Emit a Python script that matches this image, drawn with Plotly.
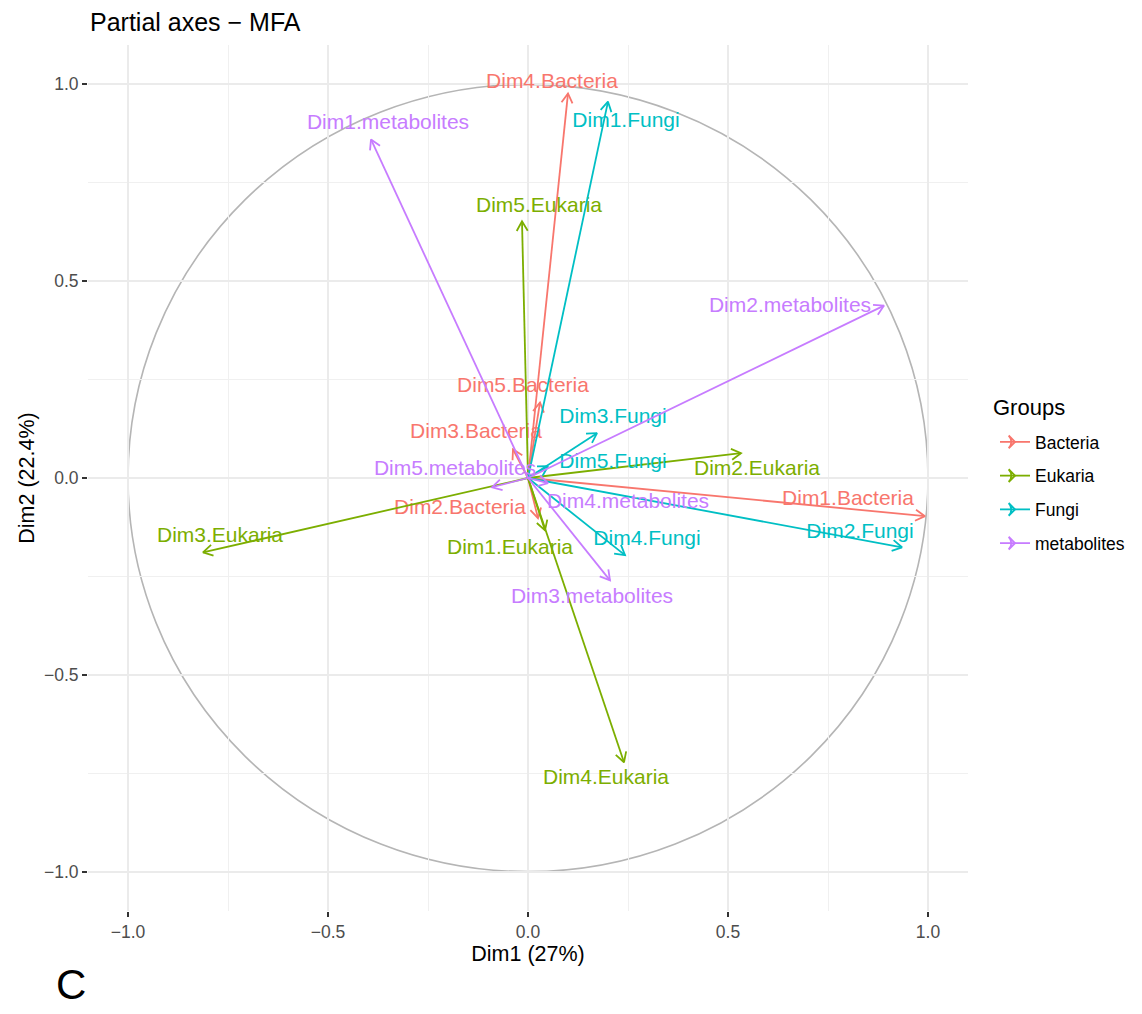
import math
import plotly.graph_objects as go

# ---------------- data ----------------
groups = ["Bacteria", "Eukaria", "Fungi", "metabolites"]
dims = ["Dim1", "Dim2", "Dim3", "Dim4", "Dim5"]

bacteria_x = [0.9925, 0.025, -0.0375, 0.10, 0.03]
bacteria_y = [-0.097, -0.102, 0.073, 0.977, 0.192]
eukaria_x = [0.0425, 0.5325, -0.8125, 0.24, -0.015]
eukaria_y = [-0.133, 0.063, -0.189, -0.722, 0.652]
fungi_x = [0.20, 0.935, 0.1725, 0.2425, 0.05]
fungi_y = [0.956, -0.176, 0.114, -0.196, 0.03]
metab_x = [-0.3925, 0.89, 0.205, 0.05, -0.09]
metab_y = [0.86, 0.438, -0.26, -0.0133, -0.0235]

# label anchor positions (repelled text) in data units
bacteria_lx = [0.80, -0.17, -0.13, 0.06, -0.0125]
bacteria_ly = [-0.056, -0.077, 0.114, 1.005, 0.233]
eukaria_lx = [-0.045, 0.5725, -0.77, 0.195, 0.0275]
eukaria_ly = [-0.179, 0.02, -0.15, -0.765, 0.69]
fungi_lx = [0.245, 0.83, 0.2125, 0.2975, 0.2125]
fungi_ly = [0.906, -0.138, 0.154, -0.156, 0.04]
metab_lx = [-0.35, 0.655, 0.16, 0.25, -0.1825]
metab_ly = [0.90, 0.436, -0.303, -0.064, 0.02]

x_ticks = [-1.0, -0.5, 0.0, 0.5, 1.0]
y_ticks = [-1.0, -0.5, 0.0, 0.5, 1.0]

series = {
    "Bacteria": (bacteria_x, bacteria_y, bacteria_lx, bacteria_ly),
    "Eukaria": (eukaria_x, eukaria_y, eukaria_lx, eukaria_ly),
    "Fungi": (fungi_x, fungi_y, fungi_lx, fungi_ly),
    "metabolites": (metab_x, metab_y, metab_lx, metab_ly),
}
colors = {"Bacteria": "#F8766D", "Eukaria": "#7CAE00",
          "Fungi": "#00BFC4", "metabolites": "#C77CFF"}

# ---------------- geometry helpers ----------------
# page body has an 8px margin, so the figure is slightly smaller than the window
W, H = 1134, 1006
ML, MR, MT, MB = 80, 174, 37, 103
PW, PH = W - ML - MR, H - MT - MB
XR = [-1.1, 1.1]
YR = [-1.1, 1.1]
SX = PW / (XR[1] - XR[0])   # px per unit
SY = PH / (YR[1] - YR[0])
HEAD = 11.0
ANG = math.radians(30)


def arrow_path(xs, ys):
    px, py = [], []
    for x, y in zip(xs, ys):
        ux, uy = x * SX, y * SY
        n = math.hypot(ux, uy) or 1.0
        dx, dy = ux / n, uy / n
        wings = []
        for s in (1, -1):
            c, si = math.cos(s * ANG), math.sin(s * ANG)
            rx, ry = dx * c - dy * si, dx * si + dy * c
            wings.append((x - HEAD * rx / SX, y - HEAD * ry / SY))
        px += [0, x, None, wings[0][0], x, wings[1][0], None]
        py += [0, y, None, wings[0][1], y, wings[1][1], None]
    return px, py


def paper_x(screen_x):
    return (screen_x - 8 - ML) / PW


def paper_y(screen_y):
    return (MT + PH - (screen_y - 8)) / PH


fig = go.Figure()

FONT = "Liberation Sans, Arial, Helvetica, sans-serif"

for g in groups:
    xs, ys, lx, ly = series[g]
    ax, ay = arrow_path(xs, ys)
    fig.add_trace(go.Scatter(
        x=ax, y=ay, mode="lines",
        line=dict(color=colors[g], width=1.8),
        name=g, legendgroup=g, showlegend=False, hoverinfo="skip"))
    fig.add_trace(go.Scatter(
        x=lx, y=ly, mode="text",
        text=[f"{d}.{g}" for d in dims],
        textfont=dict(color=colors[g], size=21, family=FONT),
        textposition="middle center",
        legendgroup=g, showlegend=False, hoverinfo="skip"))
    # legend key: arrow
    fig.add_trace(go.Scatter(
        x=[None], y=[None], mode="lines+markers",
        line=dict(color=colors[g], width=1.8),
        marker=dict(symbol="arrow-wide-open", angle=90, size=9,
                    color=colors[g], line=dict(color=colors[g], width=1.8)),
        name=g, legendgroup=g, showlegend=True, hoverinfo="skip"))

# unit circle
fig.add_shape(type="circle", xref="x", yref="y", x0=-1, y0=-1, x1=1, y1=1,
              line=dict(color="#B5B5B5", width=1.6), layer="below")
# dashed reference lines
fig.add_shape(type="line", xref="paper", yref="y", x0=0, x1=1, y0=0, y1=0,
              line=dict(color="black", width=2, dash="8px,6px"), layer="below")
fig.add_shape(type="line", xref="x", yref="paper", x0=0, x1=0, y0=0, y1=1,
              line=dict(color="black", width=2, dash="8px,6px"), layer="below")

axis_common = dict(
    showgrid=True, gridcolor="#EBEBEB", gridwidth=2,
    zeroline=False, showline=False,
    ticks="outside", ticklen=5, tickwidth=2, tickcolor="#333333",
    tickfont=dict(size=17.5, color="#4D4D4D", family=FONT),
    tickformat=".1f",
    minor=dict(dtick=0.25, tick0=0, showgrid=True, gridcolor="#F0F0F0",
               gridwidth=1, ticks=""),
)

fig.update_layout(
    width=W, height=H,
    margin=dict(l=ML, r=MR, t=MT, b=MB, autoexpand=False),
    paper_bgcolor="white", plot_bgcolor="white",
    font=dict(family=FONT, color="black"),
    title=dict(text="Partial axes \u2212 MFA", x=(90 - 8) / W, xanchor="left",
               y=1 - (22 - 8) / H, yanchor="middle",
               font=dict(size=25, color="black", family=FONT)),
    xaxis=dict(range=XR, tickvals=x_ticks,
               title=dict(text="Dim1 (27%)", standoff=0,
                          font=dict(size=21.5, color="black", family=FONT)),
               **axis_common),
    yaxis=dict(range=YR, tickvals=y_ticks,
               title=dict(text="Dim2 (22.4%)", standoff=3,
                          font=dict(size=21.5, color="black", family=FONT)),
               **axis_common),
    legend=dict(font=dict(size=17.5, color="black", family=FONT),
                x=paper_x(995), xanchor="left", y=paper_y(424), yanchor="top",
                tracegroupgap=8, bgcolor="rgba(0,0,0,0)"),
    showlegend=True,
)

fig.add_annotation(text="Groups", xref="paper", yref="paper",
                   x=paper_x(991), y=paper_y(407), showarrow=False,
                   xanchor="left", yanchor="middle",
                   font=dict(size=22, color="black", family=FONT))

fig.add_annotation(text="C", xref="paper", yref="paper",
                   x=paper_x(71), y=paper_y(984),
                   showarrow=False, xanchor="center", yanchor="middle",
                   font=dict(size=42, color="black", family=FONT))

fig.write_html("out.html")
